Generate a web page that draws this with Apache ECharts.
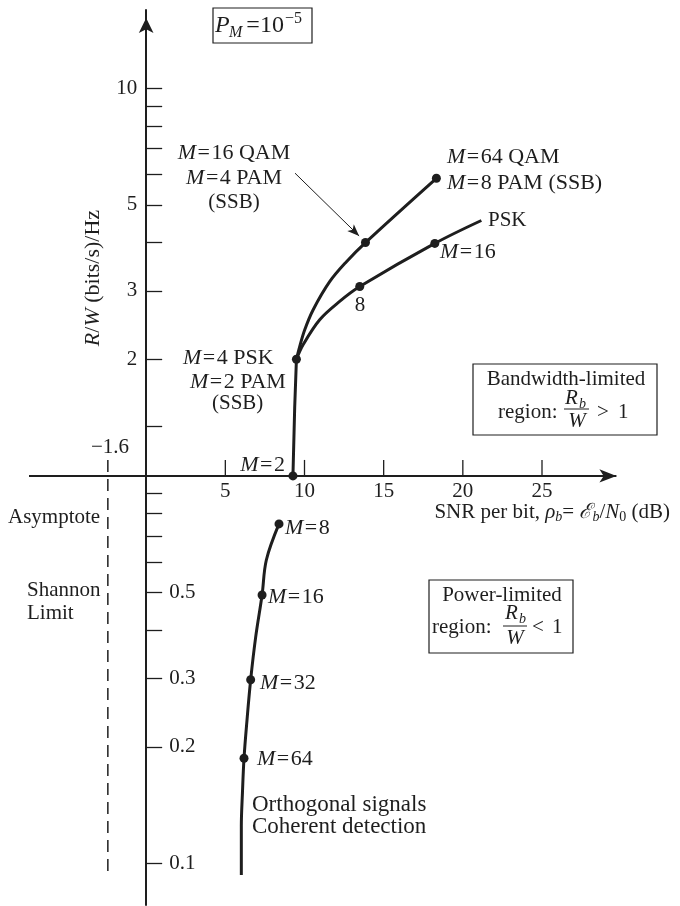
<!DOCTYPE html>
<html><head><meta charset="utf-8">
<script src="https://cdn.jsdelivr.net/npm/echarts@6/dist/echarts.min.js"></script>
<style>html,body{margin:0;padding:0;background:#fff}#c{width:680px;height:906px}</style>
</head><body><div id="c"></div>
<script>
// ---- data ----
const xTickValues = [5, 10, 15, 20, 25];
const yTickValues = [0.1, 0.2, 0.3, 0.4, 0.5, 0.6, 0.7, 0.8, 0.9, 1.34, 2, 3, 4, 5, 6, 7, 8, 9, 10];
const yLabelsUpper = [2, 3, 5, 10];
const yLabelsLower = [0.1, 0.2, 0.3, 0.5];

const bpskX = [9.27, 9.38, 9.49];
const bpskY = [1.0, 1.5, 2.0];
const qamX = [9.49, 9.70, 10.01, 10.54, 11.59, 12.65, 13.85, 18.33];
const qamY = [2.0, 2.16, 2.38, 2.68, 3.17, 3.57, 4.0, 5.86];
const pskX = [9.49, 9.91, 10.96, 12.22, 13.49, 18.23, 21.17];
const pskY = [2.0, 2.18, 2.53, 2.82, 3.08, 3.98, 4.56];
const orthoX = [8.39, 7.59, 7.32, 6.92, 6.60, 6.37, 6.18, 6.08, 6.01, 6.01];
const orthoY = [0.752, 0.607, 0.493, 0.385, 0.298, 0.235, 0.187, 0.152, 0.125, 0.0935];
const markerX = [9.27, 9.49, 13.85, 18.33, 13.49, 18.23, 8.39, 7.32, 6.60, 6.18];
const markerY = [1.0, 2.0, 4.0, 5.86, 3.08, 3.98, 0.752, 0.493, 0.298, 0.187];
const shannonX = [-2.42, -2.42];
const shannonY = [1.1, 0.0919];
const pointerX = [9.40, 13.45];
const pointerY = [6.04, 4.16];

const X_MIN = -7.4, X_MAX = 29.8, Y_MIN = 0.0782, Y_MAX = 15.92;
const X_AXIS_AT = 1;          // the horizontal axis crosses R/W = 1
const X_AXIS_END = 29.7;      // where the horizontal arrow ends

// ---- styling ----
const FONT = 'Liberation Serif';
const INK = '#1e1e1e';
const FS = 21;
const LFS = 22;
const zip = (xs, ys) => xs.map((x, i) => [x, ys[i]]);
const RICH = {
  i: {fontStyle: 'italic', fontSize: FS, fontFamily: FONT, fill: INK},
  ti: {fontStyle: 'italic', fontSize: LFS, fontFamily: FONT, fill: INK},
  mi: {fontStyle: 'italic', fontSize: LFS, fontFamily: FONT, fill: INK},
  m: {fontSize: LFS, fontFamily: FONT, fill: INK},
  eq: {fontSize: LFS, fontFamily: FONT, fill: INK, padding: [0, 1.5, 0, 1.5]},
  n: {fontSize: FS, fontFamily: FONT, fill: INK},
  sub: {fontStyle: 'italic', fontSize: 14, fontFamily: FONT, fill: INK, verticalAlign: 'bottom', lineHeight: 14},
  subn: {fontSize: 14, fontFamily: FONT, fill: INK, verticalAlign: 'bottom', lineHeight: 14}
};
function T(x, y, text, align, extra) {
  return Object.assign({
    type: 'text', x: x, y: y, silent: true,
    style: {text: text, fill: INK, fontSize: FS, fontFamily: FONT, align: align || 'left',
            verticalAlign: 'middle', lineHeight: 24, rich: RICH}
  }, extra || {});
}
function Mlab(x, y, rest, align) {
  return T(x, y, '{mi|M}{eq|=}{m|' + rest + '}', align);
}
function S(x, y, text, size, italic, align) {
  return {type: 'text', x: x, y: y, silent: true,
          style: {text: text, fill: INK, fontSize: size, fontFamily: FONT, fontStyle: italic ? 'italic' : 'normal',
                  align: align || 'left', verticalAlign: 'middle'}};
}
function box(x, y, w, h) {
  return {type: 'rect', silent: true, shape: {x: x, y: y, width: w, height: h},
          style: {fill: 'none', stroke: INK, lineWidth: 1.2}};
}
function hline(x1, x2, y) {
  return {type: 'line', silent: true, shape: {x1: x1, y1: y, x2: x2, y2: y},
          style: {stroke: INK, lineWidth: 1}};
}
const lbl = {fontFamily: FONT, fontSize: FS, color: INK, opacity: 1, textBorderWidth: 0};

const option = {
  animation: false,
  backgroundColor: '#fff',
  grid: {left: 29, right: 62, top: 10, bottom: 1},
  xAxis: {type: 'value', min: X_MIN, max: X_MAX, show: false, splitLine: {show: false}},
  yAxis: {type: 'log', min: Y_MIN, max: Y_MAX, position: 'left', splitLine: {show: false},
    axisLine: {onZero: true, symbol: ['none', 'arrow'], symbolSize: [11, 15], symbolOffset: [0, -8],
               lineStyle: {color: INK, width: 2}},
    axisTick: {customValues: yTickValues, inside: true, length: 16, lineStyle: {color: INK, width: 1.3}},
    axisLabel: {show: false}},
  series: [
    // horizontal axis line with arrow, at R/W = 1
    {type: 'line', name: 'x axis', data: [], symbol: 'none',
     markLine: {silent: true, symbol: ['none', 'arrow'], symbolSize: [10, 17], label: {show: false},
                lineStyle: {type: 'solid', width: 2, color: INK},
                data: [[{coord: [X_MIN, X_AXIS_AT]}, {coord: [X_AXIS_END, X_AXIS_AT]}]]}},
    // horizontal axis ticks (pointing up) and labels
    {type: 'custom', name: 'x ticks', silent: true, data: xTickValues.map(v => [v, X_AXIS_AT]),
     renderItem: function (params, api) {
       const p = api.coord([api.value(0), api.value(1)]);
       return {type: 'line', shape: {x1: p[0], y1: p[1], x2: p[0], y2: p[1] - 16},
               style: {stroke: INK, lineWidth: 1.3}};
     }},
    {type: 'scatter', name: 'x tick labels', silent: true, symbolSize: 0, itemStyle: {opacity: 1},
     data: xTickValues.map(v => [v, X_AXIS_AT]),
     label: Object.assign({show: true, position: 'bottom', distance: 5, formatter: p => String(p.value[0])}, lbl)},
    {type: 'scatter', name: 'y tick labels upper', silent: true, symbolSize: 0, itemStyle: {opacity: 1},
     data: yLabelsUpper.map(v => [0, v]),
     label: Object.assign({show: true, position: 'left', distance: 9, formatter: p => String(p.value[1])}, lbl)},
    {type: 'scatter', name: 'y tick labels lower', silent: true, symbolSize: 0, itemStyle: {opacity: 1},
     data: yLabelsLower.map(v => [0, v]),
     label: Object.assign({show: true, position: 'right', distance: 23, formatter: p => String(p.value[1])}, lbl)},
    // curves
    {type: 'line', name: 'M=2 to M=4', data: zip(bpskX, bpskY), symbol: 'none', lineStyle: {color: INK, width: 3}},
    {type: 'line', name: 'QAM', data: zip(qamX, qamY), smooth: 0.35, symbol: 'none', lineStyle: {color: INK, width: 3}},
    {type: 'line', name: 'PSK', data: zip(pskX, pskY), smooth: 0.35, symbol: 'none', lineStyle: {color: INK, width: 3}},
    {type: 'line', name: 'Orthogonal', data: zip(orthoX, orthoY), smooth: 0.35, symbol: 'none', lineStyle: {color: INK, width: 3}},
    {type: 'line', name: 'Shannon limit', data: zip(shannonX, shannonY), symbol: 'none',
     lineStyle: {color: INK, width: 1.5, type: [12, 7]}},
    {type: 'line', name: 'pointer', data: [], symbol: 'none',
     markLine: {silent: true, symbol: ['none', 'arrow'], symbolSize: [7, 12], label: {show: false},
                lineStyle: {type: 'solid', width: 1, color: INK},
                data: [[{coord: [pointerX[0], pointerY[0]]}, {coord: [pointerX[1], pointerY[1]]}]]}},
    {type: 'scatter', name: 'points', data: zip(markerX, markerY), symbol: 'circle', symbolSize: 9,
     itemStyle: {color: INK, opacity: 1}, z: 5}
  ],
  graphic: [
    // P_M box
    box(213, 8, 99, 35),
    S(215, 26, 'P', 24, true),
    S(229, 33, 'M', 16, true),
    S(253, 26, '=', 24, false, 'center'),
    S(260, 26, '10', 24, false),
    S(285, 19, '\u22125', 16, false),
    // QAM / PSK labels
    Mlab(234, 153, '16 QAM', 'center'),
    Mlab(234, 178, '4 PAM', 'center'),
    T(234, 202, '(SSB)', 'center'),
    Mlab(447, 157, '64 QAM', 'left'),
    Mlab(447, 183, '8 PAM (SSB)', 'left'),
    T(488, 220, 'PSK', 'left'),
    Mlab(440, 252, '16', 'left'),
    T(360, 305, '8', 'center'),
    Mlab(183, 358, '4 PSK', 'left'),
    Mlab(190, 382, '2 PAM', 'left'),
    T(212, 403, '(SSB)', 'left'),
    Mlab(285, 465, '2', 'right'),
    T(110, 447, '\u22121.6', 'center'),
    T(8, 517, 'Asymptote', 'left'),
    T(27, 590, 'Shannon', 'left'),
    T(27, 613, 'Limit', 'left'),
    Mlab(285, 528, '8', 'left'),
    Mlab(268, 597, '16', 'left'),
    Mlab(260, 683, '32', 'left'),
    Mlab(257, 759, '64', 'left'),
    S(252, 805, 'Orthogonal signals', 23, false),
    S(252, 827, 'Coherent detection', 23, false),
    // axis titles
    T(670, 512, 'SNR per bit, {i|\u03c1}{sub|b}= {i|\u2130}{sub|b}/{i|N}{subn|0} (dB)', 'right'),
    T(93, 278, '{ti|R}{m|/}{ti|W}{m| (bits/s)/Hz}', 'center', {rotation: Math.PI / 2}),
    // bandwidth-limited box
    box(473, 364, 184, 71),
    T(566, 379, 'Bandwidth-limited', 'center'),
    T(498, 412, 'region:', 'left'),
    S(565, 398, 'R', FS, true),
    S(579, 404, 'b', 14, true),
    hline(564, 589, 409),
    S(577, 421, 'W', FS, true, 'center'),
    T(597, 412, '>', 'left'),
    T(618, 412, '1', 'left'),
    // power-limited box
    box(429, 580, 144, 73),
    T(502, 595, 'Power-limited', 'center'),
    T(432, 627, 'region:', 'left'),
    S(505, 613, 'R', FS, true),
    S(519, 619, 'b', 14, true),
    hline(503, 527, 626),
    S(515, 638, 'W', FS, true, 'center'),
    T(532, 627, '<', 'left'),
    T(552, 627, '1', 'left')
  ]
};
const chart = echarts.init(document.getElementById('c'), null, {renderer: 'canvas'});
chart.setOption(option);
</script>
</body></html>
